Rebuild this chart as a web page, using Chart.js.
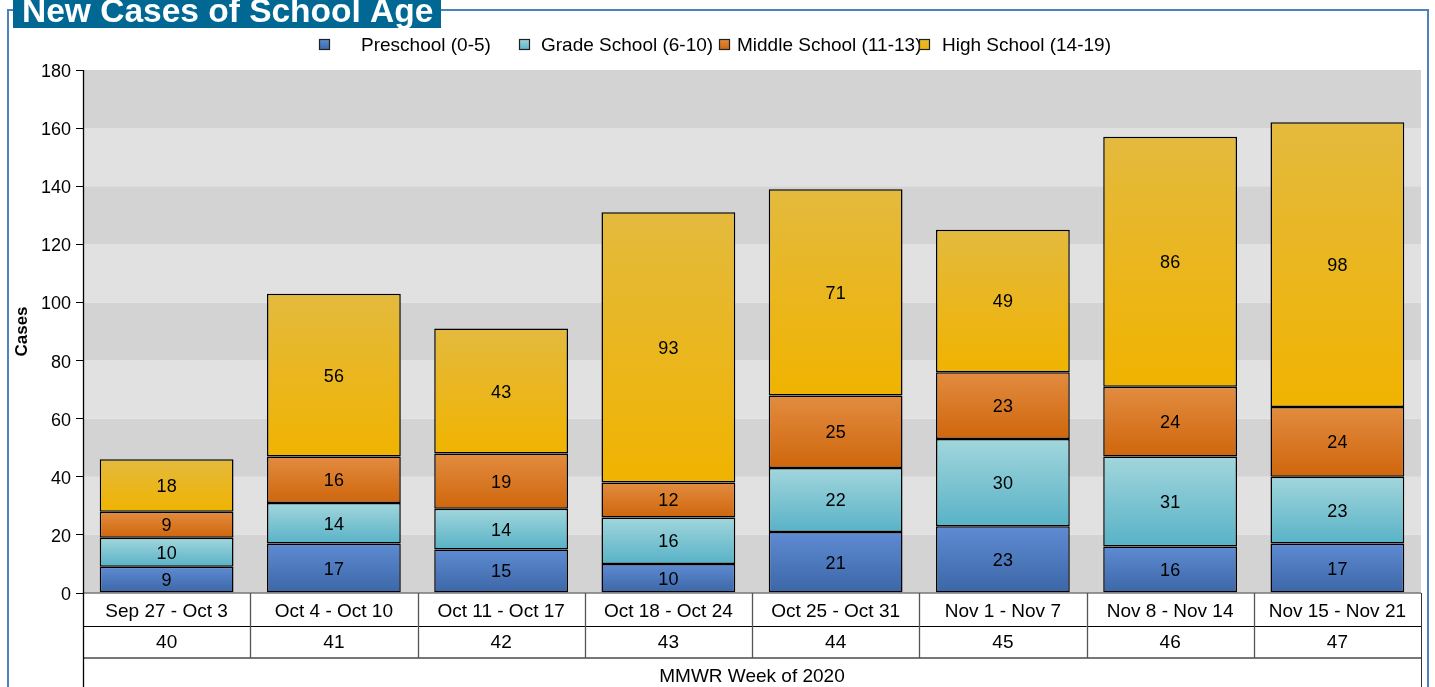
<!DOCTYPE html>
<html><head><meta charset="utf-8">
<script src="https://cdn.jsdelivr.net/npm/chart.js@4/dist/chart.umd.min.js"></script>
<style>html,body{margin:0;padding:0;background:#fff;}#wrap{width:1435px;height:687px;position:relative;}</style>
</head><body><div id="wrap"><canvas id="c" width="1435" height="687"></canvas></div>
<script>
const categories = ["Sep 27 - Oct 3","Oct 4 - Oct 10","Oct 11 - Oct 17","Oct 18 - Oct 24","Oct 25 - Oct 31","Nov 1 - Nov 7","Nov 8 - Nov 14","Nov 15 - Nov 21"];
const weeks = ["40","41","42","43","44","45","46","47"];
const preschool = [9,17,15,10,21,23,16,17];
const gradeSchool = [10,14,14,16,22,30,31,23];
const middleSchool = [9,16,19,12,25,23,24,24];
const highSchool = [18,56,43,93,71,49,86,98];
const seriesNames = ["Preschool (0-5)","Grade School (6-10)","Middle School (11-13)","High School (14-19)"];
const yTicks = [0,20,40,60,80,100,120,140,160,180];
const title = "New Cases of School Age";
const xTitle = "MMWR Week of 2020";
const yTitle = "Cases";

const seriesData = [preschool, gradeSchool, middleSchool, highSchool];
const grads = [["#5f8bd3","#3b66a6"],["#a2d6dc","#58b2c7"],["#e28c40","#cf660c"],["#e4ba3e","#f0b300"]];
const FONT = "'Liberation Sans', Arial, sans-serif";

function barFill(context){
  const chart = context.chart, di = context.datasetIndex, i = context.dataIndex;
  const y = chart.scales && chart.scales.y;
  if (!chart.chartArea || !y || i === undefined) return grads[di][1];
  let start = 0;
  for (let k=0;k<di;k++) start += seriesData[k][i];
  const end = start + seriesData[di][i];
  const top = y.getPixelForValue(end), bot = y.getPixelForValue(start);
  if (!isFinite(top) || !isFinite(bot) || top === bot) return grads[di][1];
  const g = chart.ctx.createLinearGradient(0, top, 0, bot);
  g.addColorStop(0, grads[di][0]); g.addColorStop(1, grads[di][1]);
  return g;
}

const labelPlugin = {
  id:'labels',
  afterDatasetsDraw(chart){
    const ctx = chart.ctx;
    ctx.save();
    ctx.font = "18px " + FONT; ctx.fillStyle = "#000"; ctx.textAlign = "center"; ctx.textBaseline = "middle";
    chart.data.datasets.forEach((ds,di)=>{
      const meta = chart.getDatasetMeta(di);
      meta.data.forEach((el,i)=>{
        ctx.fillText(String(ds.data[i]), el.x, (el.y + el.base)/2 + 1.5);
      });
    });
    ctx.restore();
  }
};

const bgPlugin = {
  id:'bg',
  beforeDraw(chart){
    const ctx = chart.ctx, a = chart.chartArea, y = chart.scales.y;
    ctx.save();
    ctx.fillStyle = "#fff"; ctx.fillRect(0,0,chart.width,chart.height);
    for (let i=0;i<yTicks.length-1;i++){
      const y0 = y.getPixelForValue(yTicks[i]), y1 = y.getPixelForValue(yTicks[i+1]);
      ctx.fillStyle = (i%2===0) ? "#d3d3d3" : "#e1e1e1";
      ctx.fillRect(a.left, y1, a.right - a.left, y0 - y1);
    }
    // frame
    ctx.strokeStyle = "#4f81bd"; ctx.lineWidth = 2;
    ctx.beginPath();
    ctx.moveTo(441, 10); ctx.lineTo(1428, 10); ctx.lineTo(1428, 700);
    ctx.moveTo(13, 10); ctx.lineTo(8, 10); ctx.lineTo(8, 700);
    ctx.stroke();
    // title box
    ctx.fillStyle = "#006893"; ctx.fillRect(13, 0, 428, 28);
    ctx.fillStyle = "#fff"; ctx.font = "bold 33.5px " + FONT; ctx.textAlign = "left"; ctx.textBaseline = "alphabetic";
    ctx.fillText(title, 22, 22);
    // legend
    const bx = [319, 519, 719, 919], tx = [361, 541, 737, 942];
    ctx.font = "19px " + FONT; ctx.textBaseline = "middle";
    seriesNames.forEach((n,i)=>{
      const g = ctx.createLinearGradient(0,39,0,50);
      g.addColorStop(0, grads[i][0]); g.addColorStop(1, grads[i][1]);
      ctx.fillStyle = g; ctx.fillRect(bx[i], 39, 10, 10);
      ctx.strokeStyle = "#222"; ctx.lineWidth = 1.2; ctx.strokeRect(bx[i]+0.5, 39.5, 10, 10);
      ctx.fillStyle = "#000"; ctx.fillText(n, tx[i], 46);
    });
    ctx.restore();
  },
  afterDraw(chart){
    const ctx = chart.ctx, a = chart.chartArea, x = chart.scales.x;
    const r1 = a.bottom + 33, r2 = a.bottom + 65, bottomY = chart.height;
    ctx.save();
    ctx.font = "19px " + FONT; ctx.fillStyle = "#000"; ctx.textAlign = "center"; ctx.textBaseline = "middle";
    const step = (a.right - a.left) / categories.length;
    ctx.strokeStyle = "#000"; ctx.lineWidth = 1;
    ctx.beginPath(); ctx.moveTo(a.left, r1 + 0.5); ctx.lineTo(a.right, r1 + 0.5); ctx.stroke();
    ctx.strokeStyle = "#777"; ctx.lineWidth = 2;
    ctx.beginPath(); ctx.moveTo(a.left, r2); ctx.lineTo(a.right, r2); ctx.stroke();
    ctx.strokeStyle = "#777"; ctx.lineWidth = 1.5;
    ctx.beginPath(); ctx.moveTo(a.left, a.bottom); ctx.lineTo(a.right, a.bottom); ctx.stroke();
    ctx.strokeStyle = "#555"; ctx.lineWidth = 1.3;
    for (let i=1;i<categories.length;i++){
      const xx = Math.round(a.left + i*step) + 0.5;
      ctx.beginPath(); ctx.moveTo(xx, a.bottom); ctx.lineTo(xx, r2); ctx.stroke();
    }
    ctx.strokeStyle = "#000"; ctx.lineWidth = 1.3;
    ctx.beginPath(); ctx.moveTo(a.left + 0.5, a.top); ctx.lineTo(a.left + 0.5, bottomY); ctx.stroke();
    ctx.strokeStyle = "#333"; ctx.lineWidth = 1;
    ctx.beginPath(); ctx.moveTo(a.right + 0.5, a.bottom); ctx.lineTo(a.right + 0.5, bottomY); ctx.stroke();
    categories.forEach((c,i)=>{
      const cx = x.getPixelForValue(i);
      ctx.fillText(c, cx, a.bottom + 18.5);
      ctx.fillText(weeks[i], cx, r1 + 17);
    });
    ctx.fillText(xTitle, (a.left + a.right)/2, r2 + 18.5);
    ctx.restore();
  }
};

const datasets = seriesData.map((d,i)=>({
  label: seriesNames[i], data: d, backgroundColor: barFill, borderColor: "#000", borderWidth: 1.5, borderSkipped: false,
  barPercentage: 0.8, categoryPercentage: 1.0
}));

new Chart(document.getElementById('c'), {
  type: 'bar',
  data: { labels: categories, datasets },
  options: {
    responsive: false, animation: false, devicePixelRatio: 1,
    layout: { padding: { left: 0, right: 14, top: 70, bottom: 94 } },
    plugins: { legend: { display: false }, tooltip: { enabled: false } },
    scales: {
      x: { stacked: true, display: false, offset: true },
      y: {
        stacked: true, min: 0, max: 180,
        afterFit(s){ s.width = 83; },
        afterBuildTicks(s){ s.ticks = yTicks.map(v=>({value:v})); },
        ticks: { color: "#000", font: { size: 18, family: FONT }, padding: 5, labelOffset: 2 },
        grid: { drawOnChartArea: false, tickLength: 7, color: "#000", lineWidth: 1 },
        border: { display: true, color: "#000", width: 1 },
        title: { display: true, text: yTitle, color: "#000", font: { size: 17, weight: 'bold', family: FONT }, padding: { top: 12, bottom: 0 } }
      }
    }
  },
  plugins: [bgPlugin, labelPlugin]
});
</script></body></html>
